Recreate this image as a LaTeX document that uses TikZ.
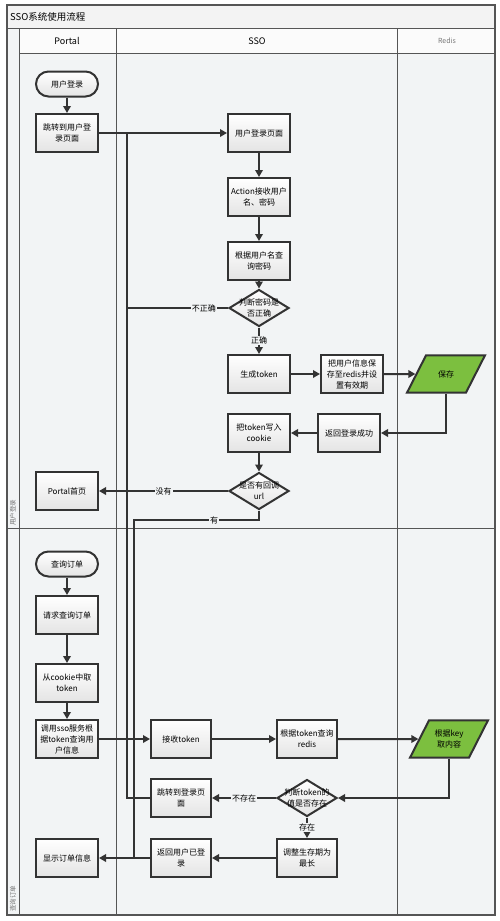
\documentclass[tikz,border=0pt]{standalone}
\usepackage{fontspec}
\setmainfont{Noto Sans CJK SC}
\usetikzlibrary{positioning,shapes.geometric,arrows.meta}
\usepackage{xcolor}
\definecolor{framegray}{HTML}{555555}
\definecolor{boxline}{HTML}{333333}
\definecolor{lanefill}{HTML}{F2F4F5}
\definecolor{headfill}{HTML}{FBFBFB}
\definecolor{titlefill}{HTML}{F3F3F3}
\definecolor{boxbottom}{HTML}{E4E4E4}
\definecolor{leafgreen}{HTML}{7CBF3F}
\definecolor{softtext}{HTML}{777777}
\begin{document}
\begin{tikzpicture}[x=1pt,y=-1pt,node distance=24pt]
\tikzstyle{box}=[draw=boxline,line width=2pt,top color=white,bottom color=boxbottom,minimum width=62pt,minimum height=38pt,inner sep=2pt,align=center,font=\fontsize{8}{11}\selectfont]
\tikzstyle{terminal}=[box,rounded corners=12.5pt,minimum height=25pt]
\tikzstyle{decision}=[diamond,draw=boxline,line width=2pt,top color=white,bottom color=boxbottom,minimum width=60pt,minimum height=37pt,inner sep=0pt]
\tikzstyle{dectext}=[align=center,inner sep=0pt,font=\fontsize{8}{11}\selectfont]
\tikzstyle{datastore}=[trapezium,trapezium left angle=63,trapezium right angle=117,trapezium stretches body=true,draw=boxline,line width=2pt,fill=leafgreen,minimum width=78pt,inner xsep=1pt,inner ysep=9.5pt,align=center,font=\fontsize{8}{11}\selectfont]
\tikzstyle{conn}=[draw=boxline,line width=2pt]
\tikzstyle{arr}=[conn,-{Triangle[length=7pt,width=7.5pt]}]
\tikzstyle{lbl}=[fill=lanefill,inner sep=1pt,font=\fontsize{8}{10}\selectfont]
\useasboundingbox (0,0) rectangle (500,921);
\fill[titlefill] (7,5) rectangle (495,28);
\fill[lanefill] (7,28) rectangle (495,915);
\fill[headfill] (19,28) rectangle (495,53);
\draw[framegray,line width=1.2pt] (7,5) rectangle (495,915);
\draw[framegray,line width=0.8pt] (7,28) -- (495,28); \draw[framegray,line width=0.8pt] (19,28) -- (19,915); \draw[framegray,line width=0.8pt] (116,28) -- (116,915); \draw[framegray,line width=0.8pt] (397,28) -- (397,915);
\draw[framegray,line width=0.8pt] (19,53) -- (495,53); \draw[framegray,line width=0.8pt] (7,528) -- (495,528);
\node[anchor=west,inner sep=0pt,font=\fontsize{9.5}{11}\selectfont] (title) at (10,17) {SSO系统使用流程};
\node[font=\fontsize{9}{11}\selectfont] (portalhead) at (67,41) {Portal};
\node[font=\fontsize{9}{11}\selectfont] (ssohead) at (257,41) {SSO};
\node[font=\fontsize{7}{9}\selectfont,text=softtext] (redishead) at (447,41) {Redis};
\node[rotate=90,anchor=west,inner sep=0pt,font=\fontsize{6.5}{8}\selectfont,text=softtext] (lanelogin) at (13,526) {用户登录};
\node[rotate=90,anchor=west,inner sep=0pt,font=\fontsize{6.5}{8}\selectfont,text=softtext] (laneorder) at (13,912) {查询订单};

\node[terminal] (login) at (67,84) {用户登录};
\node[box] (tologin) at (67,133) {跳转到用户登\\录页面};
\node[box] (loginpage) at (259,133) {用户登录页面};
\node[box,below=of loginpage] (action) {Action接收用户\\名、密码};
\node[box,below=of action] (querypwd) {根据用户名查\\询密码};
\node[decision,label={[dectext]center:{判断密码是\\否正确}}] (checkpwd) at (259,308) {};
\node[box] (maketoken) at (259,374) {生成token};
\node[box,right=29pt of maketoken] (saveinfo) {把用户信息保\\存至redis并设\\置有效期};
\node[datastore,inner ysep=15pt] (save) at (446,374) {保存};
\node[box] (retok) at (349,433) {返回登录成功};
\node[box] (writecookie) at (259,433) {把token写入\\cookie};
\node[decision,label={[dectext]center:{是否有回调\\url}}] (checkurl) at (259,491) {};
\node[box] (portalhome) at (67,491) {Portal首页};

\node[terminal] (query) at (67,564) {查询订单};
\node[box] (reqorder) at (67,615) {请求查询订单};
\node[box] (getcookie) at (67,683) {从cookie中取\\token};
\node[box] (callsso) at (67,739) {调用sso服务根\\据token查询用\\户信息};
\node[box,minimum width=60pt] (recvtoken) at (181,739) {接收token};
\node[box,minimum width=60pt] (querytoken) at (307,739) {根据token查询\\redis};
\node[datastore] (getkey) at (449,739) {根据key\\取内容};
\node[decision,label={[dectext]center:{判断token的\\值是否存在}}] (checktoken) at (307,798) {};
\node[box,minimum width=60pt] (tologin2) at (181,798) {跳转到登录页\\面};
\node[box,minimum width=60pt] (extend) at (307,858) {调整生存期为\\最长};
\node[box,minimum width=60pt] (retlogged) at (181,858) {返回用户已登\\录};
\node[box] (showorder) at (67,858) {显示订单信息};

\coordinate (backjoin) at (127,133);
\coordinate (hasurl) at (134,520);
\coordinate (showjoin) at (134,858);

\draw[arr] (login) -- (tologin); \draw[arr] (tologin) -- (loginpage);
\draw[arr] (loginpage) -- (action); \draw[arr] (action) -- (querypwd); \draw[arr] (querypwd) -- (checkpwd);
\draw[conn] (checkpwd.west) -- node[lbl,pos=0.24]{不正确} (checkpwd.west -| backjoin) -- (backjoin);
\draw[arr] (checkpwd) -- node[lbl]{正确} (maketoken);
\draw[arr] (maketoken) -- (saveinfo); \draw[arr] (saveinfo) -- (save);
\draw[arr] (save.south) |- (retok.east);
\draw[arr] (retok) -- (writecookie); \draw[arr] (writecookie) -- (checkurl);
\draw[arr] (checkurl) -- node[lbl,pos=0.5]{没有} (portalhome);
\draw[conn] (checkurl.south) |- node[lbl,pos=0.68]{有} (hasurl) -- (showjoin);

\draw[arr] (query) -- (reqorder); \draw[arr] (reqorder) -- (getcookie); \draw[arr] (getcookie) -- (callsso);
\draw[arr] (callsso) -- (recvtoken); \draw[arr] (recvtoken) -- (querytoken); \draw[arr] (querytoken) -- (getkey);
\draw[arr] (getkey.south) |- (checktoken.east);
\draw[arr] (checktoken) -- node[lbl]{不存在} (tologin2);
\draw[arr] (checktoken) -- node[lbl]{存在} (extend);
\draw[arr] (extend) -- (retlogged); \draw[arr] (retlogged) -- (showorder);
\draw[conn] (tologin2.west) -| (backjoin);
\end{tikzpicture}
\end{document}
